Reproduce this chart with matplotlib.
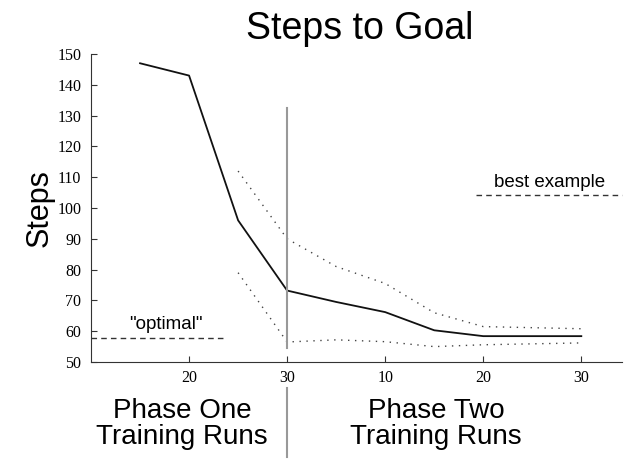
import matplotlib.pyplot as plt
import matplotlib.transforms as mtransforms

# x positions: 1 unit = 10 training runs; phase two starts after 30 (pos 3)
run_pos = [1.5, 2, 2.5, 3, 3.5, 4, 4.5, 5, 6]
mean_steps = [147, 143, 96, 73.2, 69.5, 66.2, 60.3, 58.4, 58.4]

band_pos = [2.5, 3, 3.5, 4, 4.5, 5, 6]
upper_steps = [112, 90, 81, 75.5, 66, 61.5, 60.8]
lower_steps = [79, 56.5, 57.2, 56.6, 55, 55.6, 56.2]

tick_pos = [2, 3, 4, 5, 6]
tick_labels = ['20', '30', '10', '20', '30']

optimal_steps = 57.8
best_steps = 104.2

fig = plt.figure(figsize=(6.26, 4.59), dpi=100)
ax = fig.add_axes([0.1454, 0.2113, 0.849, 0.671])

ax.plot(run_pos, mean_steps, color='#111111', lw=1.3)
ax.plot(band_pos, upper_steps, color='#444444', lw=1.0, linestyle=(0, (1, 4)))
ax.plot(band_pos, lower_steps, color='#444444', lw=1.0, linestyle=(0, (1, 4)))

# phase boundary
ax.plot([3, 3], [54.5, 132.5], color='#999999', lw=1.5)
trans = mtransforms.blended_transform_factory(ax.transData, ax.transAxes)
ax.plot([3, 3], [-0.085, -0.31], color='#999999', lw=1.5, transform=trans, clip_on=False)

# reference lines
ax.plot([1.0, 2.36], [optimal_steps, optimal_steps], color='#333333', lw=1.0, linestyle=(0, (4, 3)))
ax.text(1.76, 59.3, '"optimal"', ha='center', va='bottom', fontsize=13.5, family='Liberation Sans')
ax.plot([4.93, 6.42], [best_steps, best_steps], color='#333333', lw=1.0, linestyle=(0, (4, 3)), clip_on=False)
ax.text(5.68, 105.6, 'best example', ha='center', va='bottom', fontsize=13.5, family='Liberation Sans')

ax.set_xlim(1.0, 6.42)
ax.set_ylim(50, 150)
ax.set_yticks(range(50, 151, 10))
ax.set_xticks(tick_pos)
ax.set_xticklabels(tick_labels)
for lab in ax.get_xticklabels() + ax.get_yticklabels():
    lab.set_family('Liberation Serif')
    lab.set_fontsize(11.5)
ax.tick_params(direction='in', length=4, width=0.8, color='#333333')
ax.tick_params(axis='y', pad=7)
ax.tick_params(axis='x', pad=6)
ax.spines['top'].set_visible(False)
ax.spines['right'].set_visible(False)
ax.spines['left'].set_color('#333333')
ax.spines['bottom'].set_color('#333333')

ax.set_ylabel('Steps', fontsize=22, family='Liberation Sans', labelpad=2)
fig.text(0.575, 0.975, 'Steps to Goal', ha='center', va='top', fontsize=27, family='Liberation Sans')

ax.text(1.93, -0.118, 'Phase One\nTraining Runs', transform=trans, ha='center', va='top',
        fontsize=20, family='Liberation Sans', linespacing=1.0)
ax.text(4.52, -0.118, 'Phase Two\nTraining Runs', transform=trans, ha='center', va='top',
        fontsize=20, family='Liberation Sans', linespacing=1.0)

fig.savefig('out.png', dpi=100)
